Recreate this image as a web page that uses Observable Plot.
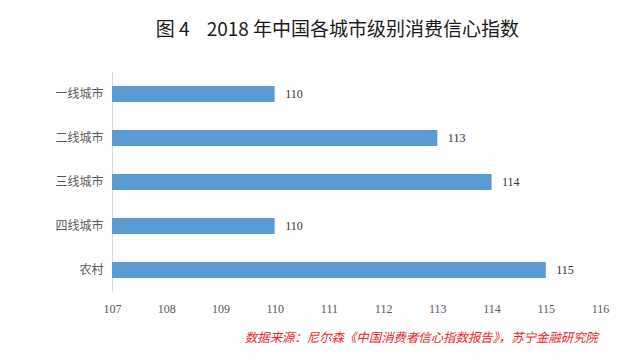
<!DOCTYPE html>
<html>
<head>
<meta charset="utf-8">
<script src="https://cdn.jsdelivr.net/npm/d3@7"></script>
<script src="https://cdn.jsdelivr.net/npm/@observablehq/plot@0.6"></script>
<style>
  body { margin: 0; background: #fff; width: 639px; height: 364px; overflow: hidden; }
  #title { height: 55px; line-height: 55px; text-align: center; font-family: "Noto Sans CJK SC", sans-serif; font-size: 19px; color: #1a1a1a; padding-left: 36px; white-space: pre; }
  #caption { text-align: right; padding-right: 41px; margin-top: 8px; font-family: "Noto Sans CJK SC", sans-serif; font-style: italic; font-size: 12.4px; color: #e8262a; }
  svg { display: block; }
</style>
</head>
<body>
<div id="title">图 4    2018 年中国各城市级别消费信心指数</div>
<div id="chart"></div>
<div id="caption">数据来源：尼尔森《中国消费者信心指数报告》，苏宁金融研究院</div>
<script>
const categories = ["一线城市", "二线城市", "三线城市", "四线城市", "农村"];
const values = [110, 113, 114, 110, 115];
const xTicks = [107, 108, 109, 110, 111, 112, 113, 114, 115, 116];

const data = categories.map((c, i) => ({category: c, value: values[i]}));

const chart = Plot.plot({
  width: 639,
  height: 265,
  marginTop: 17,
  marginBottom: 28,
  marginLeft: 112,
  marginRight: 39,
  x: {domain: [107, 116], ticks: xTicks, label: null},
  y: {domain: categories, paddingInner: 0.64, paddingOuter: 0.32, label: null},
  style: {background: "transparent"},
  marks: [
    Plot.ruleX([107], {stroke: "#d9d9d9", strokeWidth: 1}),
    Plot.barX(data, {x1: 107, x2: "value", y: "category", fill: "#5b9bd5"}),
    Plot.text(data, {x: "value", y: "category", text: d => String(d.value), dx: 10, textAnchor: "start", fontFamily: "'Liberation Serif', serif", fontSize: 12, fill: "#333"}),
    Plot.axisX({ticks: xTicks, tickSize: 0, tickPadding: 12, tickFormat: d => String(d), fontFamily: "'Liberation Serif', serif", fontSize: 12, color: "#595959", label: null}),
    Plot.axisY({tickSize: 0, tickPadding: 9, fontFamily: "'Noto Sans CJK SC', sans-serif", fontSize: 12, color: "#595959", label: null})
  ]
});
document.getElementById("chart").appendChild(chart);
</script>
</body>
</html>
